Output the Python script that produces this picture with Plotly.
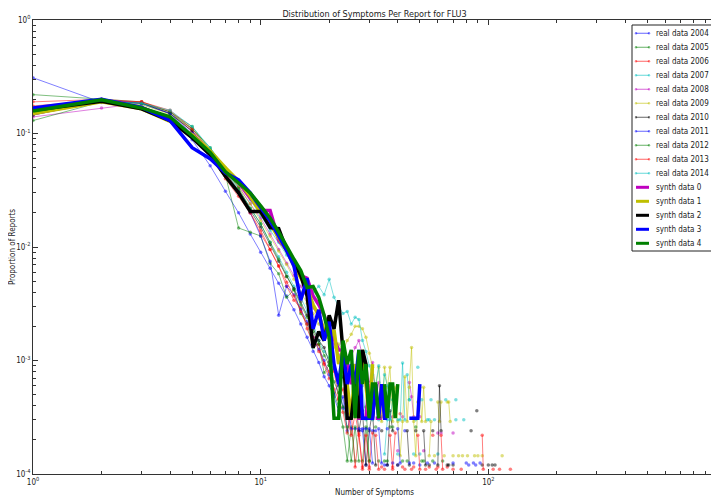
import plotly.graph_objects as go

FONT = "DejaVu Sans Condensed, Liberation Sans Narrow, DejaVu Sans, sans-serif"

TITLE = "Distribution of Symptoms Per Report for FLU3"
X_TITLE = "Number of Symptoms"
Y_TITLE = "Proportion of Reports"

X_TICKVALS = [1, 10, 100, 1000]
X_TICKTEXT = ["10<sup>0</sup>", "10<sup>1</sup>", "10<sup>2</sup>", "10<sup>3</sup>"]
Y_TICKVALS = [0.0001, 0.001, 0.01, 0.1, 1]
Y_TICKTEXT = ["10<sup>-4</sup>", "10<sup>-3</sup>", "10<sup>-2</sup>", "10<sup>-1</sup>", "10<sup>0</sup>"]

REAL_LABELS = ["real data 2004", "real data 2005", "real data 2006", "real data 2007",
               "real data 2008", "real data 2009", "real data 2010", "real data 2011",
               "real data 2012", "real data 2013", "real data 2014"]
REAL_COLORS = ["rgba(0,0,255,0.5)", "rgba(0,128,0,0.5)", "rgba(255,0,0,0.5)", "rgba(0,191,191,0.5)",
               "rgba(191,0,191,0.5)", "rgba(191,191,0,0.5)", "rgba(0,0,0,0.5)", "rgba(0,0,255,0.5)",
               "rgba(0,128,0,0.5)", "rgba(255,0,0,0.5)", "rgba(0,191,191,0.5)"]
SYNTH_LABELS = ["synth data 0", "synth data 1", "synth data 2", "synth data 3", "synth data 4"]
SYNTH_COLORS = ["#bf00bf", "#bfbf00", "#000000", "#0000ff", "#008000"]

BODY_X = [1, 2, 3, 4, 5, 6, 7, 8, 9, 10, 11, 12, 13, 14, 15, 16, 17, 18, 19, 20, 21, 22, 23, 24, 25]

R2004_X = BODY_X + [27, 28, 29, 31, 32, 35, 36, 40, 43, 50, 82, 88]
R2004_Y = [0.31, 0.188, 0.172, 0.135, 0.088, 0.052, 0.031, 0.02, 0.013, 0.009, 0.0065, 0.0048, 0.0037,
           0.0028, 0.0021, 0.0016, 0.0012, 0.00096, 0.00072, 0.0006, 0.00048, 0.00036, 0.00048, 0.00024,
           0.00036, 0.00024, 0.00024, 0.00012, 0.00024, 0.00024, 0.00012, 0.00012, 0.00012, 0.00024,
           0.00012, 0.00012, 0.00012]

R2005_X = BODY_X + [26, 28, 29, 30, 33, 37, 44, 52]
R2005_Y = [0.22, 0.2, 0.19, 0.155, 0.115, 0.072, 0.043, 0.0147, 0.0135, 0.0125, 0.0072, 0.0058, 0.0036,
           0.0042, 0.0026, 0.0021, 0.0013, 0.0014, 0.00078, 0.00091, 0.00052, 0.00039, 0.00026, 0.00013,
           0.00026, 0.00013, 0.00013, 0.00026, 0.00013, 0.00013, 0.00026, 0.00013, 0.00013]

R2006_X = BODY_X + [26, 27, 28, 30, 31, 34, 38, 39, 42, 47, 55, 60, 66]
R2006_Y = [0.19, 0.2, 0.19, 0.155, 0.105, 0.065, 0.04, 0.028, 0.02, 0.013, 0.0095, 0.0068, 0.0045,
           0.0034, 0.0029, 0.0019, 0.0014, 0.00138, 0.00092, 0.00069, 0.00081, 0.00046, 0.00035, 0.00023,
           0.00035, 0.000115, 0.00023, 0.000115, 0.000115, 0.00023, 0.000115, 0.000115, 0.00023,
           0.000115, 0.000115, 0.000115, 0.000115, 0.000115]

R2007_X = BODY_X + [26, 27, 28, 29, 30, 31, 33, 35, 36, 38, 40, 44, 45, 48, 50, 55, 60, 72, 78]
R2007_Y = [0.165, 0.195, 0.18, 0.15, 0.11, 0.07, 0.047, 0.032, 0.022, 0.016, 0.011, 0.0082, 0.006,
           0.0045, 0.0036, 0.0027, 0.0021, 0.0015, 0.0012, 0.00105, 0.0009, 0.00075, 0.0009, 0.0006,
           0.00075, 0.0006, 0.00045, 0.0006, 0.0003, 0.00045, 0.0003, 0.0003, 0.00015, 0.0003, 0.00045,
           0.00015, 0.00075, 0.00045, 0.0003, 0.00015, 0.0003, 0.00015, 0.0003, 0.0003]

R2008_X = BODY_X + [26, 27, 28, 29, 30, 31, 32, 33, 34, 36, 38, 40, 42, 45, 46, 47, 50, 52, 60, 62, 70]
R2008_Y = [0.14, 0.168, 0.185, 0.15, 0.105, 0.07, 0.047, 0.034, 0.024, 0.018, 0.013, 0.0095, 0.0072,
           0.0056, 0.0045, 0.0035, 0.0029, 0.0024, 0.0019, 0.0016, 0.0014, 0.0011, 0.0013, 0.00096,
           0.0011, 0.0013, 0.0015, 0.0011, 0.0008, 0.00064, 0.00096, 0.00048, 0.00064, 0.00032, 0.00048,
           0.00032, 0.00016, 0.00032, 0.00064, 0.00048, 0.00032, 0.00032, 0.00016, 0.00023, 0.00023,
           0.00023]

R2009_X = BODY_X + [26, 27, 28, 29, 30, 31, 32, 33, 34, 35, 36, 37, 38, 39, 40, 41, 42, 43, 44, 45, 46,
                    47, 48, 49, 50, 51, 52, 53, 55, 56, 58, 60, 61, 62, 64, 66, 67, 68, 70, 74, 77, 81,
                    87, 90, 94, 115]
R2009_Y = [0.15, 0.19, 0.18, 0.148, 0.11, 0.072, 0.05, 0.034, 0.024, 0.017, 0.0125, 0.0092, 0.007,
           0.0052, 0.004, 0.0032, 0.0026, 0.0021, 0.0018, 0.0016, 0.0013, 0.0014, 0.0012, 0.0015,
           0.0017, 0.002, 0.002, 0.0019, 0.0016, 0.00116, 0.00087, 0.00058, 0.00087, 0.00029, 0.00087,
           0.00058, 0.00087, 0.00029, 0.00058, 0.00029, 0.000145, 0.00029, 0.00072, 0.00029, 0.00058,
           0.0013, 0.00029, 0.000145, 0.00043, 0.00058, 0.00029, 0.00058, 0.00029, 0.000145, 0.00029,
           0.000145, 0.00043, 0.00029, 0.00043, 0.000145, 0.00043, 0.00043, 0.00029, 0.000145,
           0.000145, 0.000145, 0.000145, 0.000145, 0.000145, 0.000145, 0.000145]

R2010_X = BODY_X + [26, 27, 28, 29, 30, 31, 32, 34, 36, 37, 38, 40, 44, 45, 48, 52, 53, 55, 57, 60, 61,
                    62, 66, 67, 70, 84, 89, 94, 100, 104, 107]
R2010_Y = [0.145, 0.195, 0.185, 0.15, 0.105, 0.068, 0.046, 0.031, 0.021, 0.015, 0.0105, 0.0075, 0.0055,
           0.0043, 0.0033, 0.0025, 0.0019, 0.0015, 0.0013, 0.00096, 0.00084, 0.0006, 0.00072, 0.00048,
           0.00036, 0.00048, 0.00024, 0.00036, 0.00012, 0.00024, 0.00036, 0.00012, 0.00024, 0.00012,
           0.00036, 0.00024, 0.00012, 0.00024, 0.00012, 0.00024, 0.00024, 0.00012, 0.00012, 0.00024,
           0.00012, 0.0006, 0.00024, 0.00012, 0.00012, 0.00012, 0.00024, 0.00036, 0.00012, 0.00012,
           0.00012, 0.00012]

R2011_X = BODY_X + [26, 27, 28, 29, 30, 31, 33, 34, 36, 38, 40, 41, 45, 47, 54, 58, 70, 80, 86, 92]
R2011_Y = [0.16, 0.2, 0.185, 0.15, 0.1, 0.06, 0.042, 0.03, 0.02, 0.0125, 0.0075, 0.0025, 0.0045, 0.0038,
           0.0028, 0.0022, 0.0016, 0.00125, 0.001, 0.00075, 0.0005, 0.00063, 0.00038, 0.0005, 0.00025,
           0.00025, 0.00025, 0.00025, 0.00025, 0.00025, 0.000125, 0.00025, 0.000125, 0.00025,
           0.000125, 0.00025, 0.000125, 0.000125, 0.000125, 0.000125, 0.000125, 0.000125, 0.000125,
           0.000125, 0.000125]

R2012_X = BODY_X + [26, 27, 29, 30, 32, 35, 36, 38, 42, 48, 51, 57, 63]
R2012_Y = [0.13, 0.19, 0.185, 0.155, 0.11, 0.075, 0.048, 0.033, 0.022, 0.016, 0.011, 0.0078, 0.0055,
           0.0042, 0.0031, 0.0024, 0.0018, 0.0014, 0.0011, 0.00091, 0.00065, 0.00052, 0.00039, 0.00026,
           0.00013, 0.00026, 0.00013, 0.00039, 0.00013, 0.00026, 0.00013, 0.00013, 0.00026, 0.00013,
           0.00026, 0.00013, 0.00013, 0.00013]

R2013_X = BODY_X + [26, 27, 28, 29, 30, 32, 33, 35, 37, 38, 41, 43, 46, 49, 50, 53, 57, 59, 62, 63, 70,
                    76, 94, 95, 105, 112, 125]
R2013_Y = [0.175, 0.195, 0.19, 0.16, 0.11, 0.07, 0.045, 0.03, 0.02, 0.014, 0.0095, 0.0068, 0.0049,
           0.0037, 0.0027, 0.0021, 0.0016, 0.0012, 0.00095, 0.0008, 0.00056, 0.00045, 0.00056, 0.00034,
           0.00022, 0.00034, 0.00022, 0.00011, 0.00022, 0.00011, 0.00022, 0.00011, 0.00011, 0.00022,
           0.00011, 0.00034, 0.00011, 0.00011, 0.00022, 0.00011, 0.00011, 0.00022, 0.00011, 0.00022,
           0.00011, 0.00011, 0.00011, 0.00022, 0.00011, 0.00011, 0.00011, 0.00011]

R2014_X = BODY_X + [26, 27, 28, 29, 30, 31, 32, 33, 34, 35, 36, 37, 38, 40, 41, 42, 43, 45, 47, 49, 51,
                    54, 56, 58, 65, 72]
R2014_Y = [0.155, 0.19, 0.185, 0.16, 0.115, 0.075, 0.05, 0.036, 0.026, 0.019, 0.014, 0.011, 0.0085,
           0.0068, 0.0058, 0.0048, 0.004, 0.0045, 0.0038, 0.0052, 0.0036, 0.003, 0.0026, 0.0027,
           0.0021, 0.0024, 0.0023, 0.0015, 0.0012, 0.0009, 0.00075, 0.0006, 0.0009, 0.00045, 0.00075,
           0.0006, 0.0003, 0.00045, 0.0003, 0.0003, 0.00095, 0.0003, 0.00045, 0.00015, 0.00087,
           0.00045, 0.0003, 0.00045, 0.0003, 0.00045, 0.00045]

S0_X = BODY_X + [26, 27, 28, 29, 30, 32, 33, 34]
S0_Y = [0.15, 0.195, 0.17, 0.135, 0.093, 0.067, 0.047, 0.037, 0.027, 0.021, 0.021, 0.0115, 0.0095,
        0.0072, 0.0056, 0.0053, 0.0037, 0.0031, 0.0025, 0.00186, 0.00155, 0.00124, 0.00124, 0.00093,
        0.00062, 0.00093, 0.00031, 0.00031, 0.00031, 0.00062, 0.00031, 0.00031, 0.00031]

S1_X = BODY_X + [26, 27, 28, 29, 30, 31, 33, 34, 35, 37]
S1_Y = [0.15, 0.19, 0.165, 0.128, 0.097, 0.07, 0.05, 0.038, 0.028, 0.02, 0.016, 0.012, 0.0093, 0.0068,
        0.0053, 0.0043, 0.0031, 0.0025, 0.00186, 0.00155, 0.00186, 0.00093, 0.00124, 0.00062, 0.00031,
        0.00093, 0.00031, 0.00124, 0.00062, 0.00031, 0.00093, 0.00031, 0.00062, 0.00031, 0.00031]

S2_X = BODY_X + [26, 27, 28, 29, 30, 31, 32, 34]
S2_Y = [0.16, 0.192, 0.165, 0.13, 0.092, 0.065, 0.042, 0.03, 0.0205, 0.0205, 0.0148, 0.0145, 0.0095,
        0.0074, 0.0056, 0.0037, 0.0013, 0.0018, 0.0015, 0.0025, 0.0019, 0.0034, 0.0012, 0.00031,
        0.00031, 0.00062, 0.00031, 0.00124, 0.00093, 0.00031, 0.00031, 0.00062, 0.00031]

S3_X = BODY_X + [26, 27, 28, 29, 30, 31, 32, 33, 34, 35, 36, 45, 46, 47, 48, 49, 50]
S3_Y = [0.168, 0.2, 0.17, 0.13, 0.075, 0.06, 0.045, 0.039, 0.03, 0.022, 0.017, 0.0125, 0.0093, 0.0068,
        0.0034, 0.0053, 0.0019, 0.0028, 0.0015, 0.0022, 0.00093, 0.00062, 0.00124, 0.00062, 0.00093,
        0.00062, 0.00124, 0.00031, 0.00031, 0.00031, 0.00031, 0.00062, 0.00031, 0.00062, 0.00031,
        0.00031, 0.00031, 0.00031, 0.00031, 0.00031, 0.00031, 0.00062]

S4_X = BODY_X + [26, 27, 28, 29, 30, 31, 32, 33, 35, 36, 37, 38, 39, 40]
S4_Y = [0.158, 0.198, 0.168, 0.14, 0.095, 0.068, 0.046, 0.037, 0.03, 0.023, 0.018, 0.0135, 0.01,
        0.0078, 0.0062, 0.0044, 0.0045, 0.0036, 0.0025, 0.0016, 0.00031, 0.00031, 0.0015, 0.00093,
        0.00124, 0.00031, 0.00124, 0.00062, 0.00093, 0.00031, 0.00062, 0.00062, 0.00031, 0.00062,
        0.00031, 0.00062, 0.00062, 0.00031, 0.00062]

REAL_SERIES = [(R2004_X, R2004_Y), (R2005_X, R2005_Y), (R2006_X, R2006_Y), (R2007_X, R2007_Y),
               (R2008_X, R2008_Y), (R2009_X, R2009_Y), (R2010_X, R2010_Y), (R2011_X, R2011_Y),
               (R2012_X, R2012_Y), (R2013_X, R2013_Y), (R2014_X, R2014_Y)]
SYNTH_SERIES = [(S0_X, S0_Y), (S1_X, S1_Y), (S2_X, S2_Y), (S3_X, S3_Y), (S4_X, S4_Y)]


def with_gaps(xs, ys):
    # zero counts are not drawn on a log axis: break the line where a value is missing
    ox, oy, prev = [], [], None
    for x, y in zip(xs, ys):
        if prev is not None and x - prev > 1:
            ox.append(None)
            oy.append(None)
        ox.append(x)
        oy.append(y)
        prev = x
    return ox, oy


fig = go.Figure()
for (xs, ys), name, col in zip(REAL_SERIES, REAL_LABELS, REAL_COLORS):
    gx, gy = with_gaps(xs, ys)
    fig.add_trace(go.Scatter(x=gx, y=gy, name=name, mode="lines+markers",
                             line=dict(color=col, width=1), marker=dict(color=col, size=3.5),
                             connectgaps=False, showlegend=False))
for (xs, ys), name, col in zip(SYNTH_SERIES, SYNTH_LABELS, SYNTH_COLORS):
    gx, gy = with_gaps(xs, ys)
    fig.add_trace(go.Scatter(x=gx, y=gy, name=name, mode="lines",
                             line=dict(color=col, width=3.5), connectgaps=False, showlegend=False))

# The page body adds an 8px margin, so the figure is 8px smaller than the window.
OFF = 8
FIG_W, FIG_H = 719 - OFF, 497 - OFF
# plot area in window pixels
L, R, T, B = 33, 716, 20, 474


def px(xp):
    return (xp - L) / (R - L)


def py(yp):
    return (B - yp) / (B - T)


minor_x = [2, 3, 4, 5, 6, 7, 8, 9, 20, 30, 40, 50, 60, 70, 80, 90, 200, 300, 400, 500, 600, 700, 800, 900]
minor_y = [0.0002, 0.0003, 0.0004, 0.0005, 0.0006, 0.0007, 0.0008, 0.0009,
           0.002, 0.003, 0.004, 0.005, 0.006, 0.007, 0.008, 0.009,
           0.02, 0.03, 0.04, 0.05, 0.06, 0.07, 0.08, 0.09,
           0.2, 0.3, 0.4, 0.5, 0.6, 0.7, 0.8, 0.9]

axis_common = dict(type="log", showgrid=False, zeroline=False, showline=True, linecolor="#333",
                   linewidth=1, mirror="allticks", ticks="inside", ticklen=5, tickwidth=1,
                   tickcolor="#333", tickmode="array", automargin=False,
                   tickfont=dict(size=8, family=FONT, color="#222"))

fig.update_layout(
    template="none",
    width=FIG_W, height=FIG_H,
    margin=dict(l=L - OFF, r=FIG_W - (R - OFF), t=T - OFF, b=FIG_H - (B - OFF), pad=0),
    paper_bgcolor="white", plot_bgcolor="white",
    font=dict(family=FONT, size=9, color="#222"),
    showlegend=False,
    title=dict(text=TITLE, x=0.5, xref="paper", xanchor="center", y=1 - 5.5 / FIG_H, yanchor="middle",
               font=dict(size=9, family=FONT, color="#222")),
    xaxis=dict(axis_common, range=[0, 3], tickvals=X_TICKVALS, ticktext=X_TICKTEXT,
               minor=dict(ticks="inside", ticklen=3, tickcolor="#333", tickmode="array", tickvals=minor_x),
               title=dict(text=X_TITLE, standoff=3, font=dict(size=8, family=FONT))),
    yaxis=dict(axis_common, range=[-4, 0], tickvals=Y_TICKVALS, ticktext=Y_TICKTEXT,
               minor=dict(ticks="inside", ticklen=3, tickcolor="#333", tickmode="array", tickvals=minor_y),
               title=dict(text=Y_TITLE, standoff=0, font=dict(size=8, family=FONT))),
)

# legend drawn as layout shapes and text (matplotlib-style compact legend)
shapes = [dict(type="rect", xref="paper", yref="paper", x0=px(632), x1=px(713), y0=py(251), y1=py(25),
               line=dict(color="#222", width=1), fillcolor="white", layer="above")]
annotations = []
labels = REAL_LABELS + SYNTH_LABELS
colors = REAL_COLORS + SYNTH_COLORS
for i, (lab, col) in enumerate(zip(labels, colors)):
    cy = 33.3 + 14.0 * i
    is_real = i < len(REAL_LABELS)
    shapes.append(dict(type="line", xref="paper", yref="paper", x0=px(636), x1=px(649), y0=py(cy), y1=py(cy),
                       line=dict(color=col, width=1.2 if is_real else 3), layer="above"))
    if is_real:
        for xe in (636, 649):
            shapes.append(dict(type="circle", xref="paper", yref="paper", x0=px(xe - 1.2), x1=px(xe + 1.2),
                               y0=py(cy + 1.2), y1=py(cy - 1.2), fillcolor=col, line=dict(width=0),
                               layer="above"))
    annotations.append(dict(text=lab, xref="paper", yref="paper", x=px(654), y=py(cy), xanchor="left",
                            yanchor="middle", showarrow=False, font=dict(size=8, family=FONT, color="#222")))
fig.update_layout(shapes=shapes, annotations=annotations)

fig.write_html("out.html")
